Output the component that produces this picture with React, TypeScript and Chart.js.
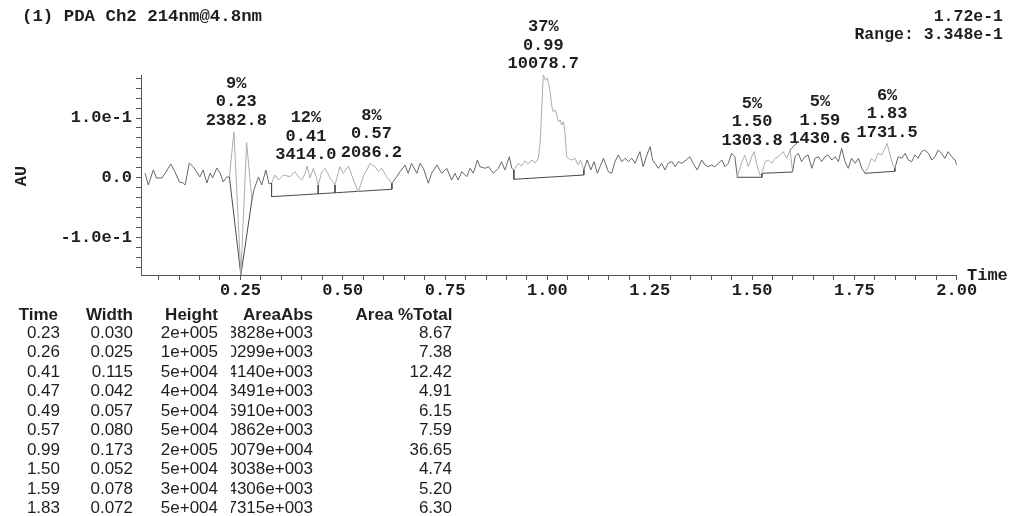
import React, { useEffect, useRef } from "react";
import { Chart, registerables } from "chart.js";

Chart.register(...registerables);

// ---- trace (retention time, min) / absorbance (AU) ----
const TIME = [
  0.017, 0.025, 0.037, 0.045, 0.058, 0.066, 0.080, 0.090, 0.101, 0.110, 0.115, 0.125, 0.135, 0.143, 0.151, 0.159,
  0.168, 0.176, 0.182, 0.192, 0.200, 0.208, 0.216, 0.223, 0.234, 0.251, 0.265, 0.278, 0.283, 0.294, 0.302, 0.312,
  0.320, 0.326, 0.334, 0.343, 0.355, 0.371, 0.383, 0.391, 0.400, 0.408, 0.413, 0.420, 0.428, 0.435, 0.440, 0.449,
  0.457, 0.469, 0.481, 0.493, 0.501, 0.514, 0.526, 0.538, 0.550, 0.567, 0.579, 0.587, 0.595, 0.607, 0.620, 0.632,
  0.640, 0.652, 0.660, 0.668, 0.681, 0.689, 0.697, 0.709, 0.717, 0.730, 0.742, 0.754, 0.766, 0.774, 0.782, 0.791,
  0.803, 0.811, 0.819, 0.829, 0.835, 0.848, 0.856, 0.868, 0.880, 0.888, 0.896, 0.907, 0.913, 0.918, 0.929, 0.937,
  0.945, 0.953, 0.962, 0.970, 0.978, 0.982, 0.986, 0.990, 0.995, 1.000, 1.006, 1.011, 1.014, 1.019, 1.023, 1.027,
  1.031, 1.035, 1.039, 1.043, 1.047, 1.051, 1.059, 1.067, 1.075, 1.081, 1.089, 1.097, 1.106, 1.114, 1.122, 1.137,
  1.149, 1.157, 1.165, 1.173, 1.182, 1.190, 1.198, 1.206, 1.214, 1.226, 1.234, 1.243, 1.251, 1.257, 1.263, 1.271,
  1.279, 1.287, 1.295, 1.304, 1.312, 1.320, 1.328, 1.339, 1.348, 1.356, 1.366, 1.377, 1.385, 1.393, 1.401, 1.409,
  1.418, 1.426, 1.434, 1.442, 1.450, 1.458, 1.464, 1.474, 1.482, 1.491, 1.499, 1.505, 1.511, 1.519, 1.524, 1.532,
  1.540, 1.548, 1.556, 1.564, 1.576, 1.585, 1.593, 1.599, 1.605, 1.613, 1.621, 1.629, 1.637, 1.646, 1.654, 1.662,
  1.670, 1.678, 1.686, 1.695, 1.703, 1.711, 1.719, 1.727, 1.735, 1.743, 1.752, 1.760, 1.768, 1.776, 1.784, 1.792,
  1.800, 1.808, 1.817, 1.825, 1.830, 1.837, 1.844, 1.849, 1.857, 1.866, 1.874, 1.882, 1.890, 1.898, 1.906, 1.914,
  1.922, 1.931, 1.939, 1.947, 1.955, 1.963, 1.971, 1.979, 1.988, 1.996, 2.000,
];
const AU = [
  0.0074, -0.0121, 0.0130, -0.0004, -0.0004, 0.0074, 0.0230, 0.0096, -0.0071, -0.0088, -0.0121, 0.0247, 0.0180, 0.0096, 0.0013, 0.0130,
  -0.0088, 0.0080, -0.0004, 0.0163, 0.0080, -0.0071, 0.0013, 0.0013, 0.0771, -0.1628, 0.0590, -0.0372, -0.0205, 0.0013, -0.0121, 0.0130,
  -0.0105, -0.0088, 0.0046, -0.0038, 0.0046, 0.0018, 0.0101, 0.0018, -0.0038, 0.0074, 0.0197, -0.0004, 0.0158, 0.0018, -0.0121, 0.0101,
  0.0158, -0.0004, -0.0121, 0.0185, 0.0074, 0.0197, -0.0038, -0.0234, 0.0018, 0.0242, 0.0185, 0.0101, 0.0158, 0.0018, -0.0093, 0.0018,
  0.0101, 0.0213, 0.0074, 0.0242, 0.0074, 0.0242, 0.0158, -0.0093, 0.0074, 0.0213, 0.0074, 0.0158, -0.0038, 0.0074, -0.0038, 0.0101,
  0.0018, 0.0158, 0.0074, 0.0297, 0.0185, 0.0158, 0.0185, 0.0074, 0.0158, 0.0269, 0.0130, 0.0352, 0.0158, 0.0130, 0.0242, 0.0197,
  0.0285, 0.0230, 0.0297, 0.0247, 0.0326, 0.0577, 0.1134, 0.1720, 0.1636, 0.1670, 0.1469, 0.1189, 0.1106, 0.1134, 0.1050, 0.0938,
  0.0967, 0.0883, 0.0938, 0.0744, 0.0352, 0.0326, 0.0297, 0.0326, 0.0213, 0.0297, 0.0130, 0.0297, 0.0130, 0.0269, 0.0074, 0.0326,
  0.0101, 0.0074, 0.0269, 0.0381, 0.0269, 0.0326, 0.0269, 0.0326, 0.0242, 0.0436, 0.0185, 0.0381, 0.0520, 0.0297, 0.0242, 0.0158,
  0.0242, 0.0130, 0.0242, 0.0269, 0.0185, 0.0269, 0.0242, 0.0297, 0.0352, 0.0242, 0.0130, 0.0297, 0.0213, 0.0185, 0.0213, 0.0185,
  0.0242, 0.0297, 0.0185, 0.0242, 0.0409, 0.0352, 0.0018, 0.0242, 0.0381, 0.0185, 0.0352, 0.0436, 0.0242, 0.0046, 0.0074, 0.0269,
  0.0297, 0.0242, 0.0326, 0.0352, 0.0436, 0.0326, 0.0465, 0.0101, 0.0352, 0.0409, 0.0269, 0.0352, 0.0381, 0.0158, 0.0326, 0.0352,
  0.0269, 0.0352, 0.0381, 0.0297, 0.0352, 0.0269, 0.0493, 0.0269, 0.0158, 0.0326, 0.0242, 0.0326, 0.0158, 0.0074, 0.0185, 0.0326,
  0.0269, 0.0409, 0.0381, 0.0493, 0.0577, 0.0381, 0.0213, 0.0158, 0.0352, 0.0326, 0.0409, 0.0297, 0.0269, 0.0381, 0.0326, 0.0436,
  0.0465, 0.0409, 0.0297, 0.0352, 0.0465, 0.0409, 0.0326, 0.0436, 0.0352, 0.0297, 0.0213,
];

// integrated peak regions (drawn in lighter grey)
const PEAK_RANGES: [number, number][] = [
  [0.223, 0.278], [0.326, 0.620], [0.918, 1.089], [1.464, 1.599], [1.776, 1.849],
];
// baselines: [t start, AU start, t end, AU end]
const BASELINES: [number, number, number, number][] = [
  [0.223, 0.0013, 0.251, -0.1628],
  [0.251, -0.1628, 0.278, -0.0372],
  [0.326, -0.0317, 0.620, -0.0193],
  [0.918, -0.0026, 1.089, 0.0046],
  [1.464, 0.0008, 1.524, 0.0008],
  [1.524, 0.0074, 1.599, 0.0096],
  [1.776, 0.0074, 1.849, 0.0108],
];
const DROP_TIMES = [0.326, 0.44, 0.481, 0.538, 0.62, 0.918, 1.089, 1.464, 1.524, 1.599, 1.776, 1.849];

// peak labels
const LABEL_PCT = ["9%", "12%", "8%", "37%", "5%", "5%", "6%"];
const LABEL_RT = ["0.23", "0.41", "0.57", "0.99", "1.50", "1.59", "1.83"];
const LABEL_AREA = ["2382.8", "3414.0", "2086.2", "10078.7", "1303.8", "1430.6", "1731.5"];
const LABEL_FROM = [0.223, 0.326, 0.538, 0.918, 1.464, 1.524, 1.776];
const LABEL_TO = [0.251, 0.44, 0.62, 1.089, 1.524, 1.599, 1.849];

// axes
const X_LABELS = ["0.25", "0.50", "0.75", "1.00", "1.25", "1.50", "1.75", "2.00"];
const Y_LABELS = ["-1.0e-1", "0.0", "1.0e-1"];
const Y_LABEL_VALUES = [-0.1, 0, 0.1];
const X_MIN = 0.007;
const X_MAX = 2.0;
const Y_MIN = -0.1628;
const Y_MAX = 0.172;

// results table
const TBL_TIME = ["0.23", "0.26", "0.41", "0.47", "0.49", "0.57", "0.99", "1.50", "1.59", "1.83"];
const TBL_WIDTH = ["0.030", "0.025", "0.115", "0.042", "0.057", "0.080", "0.173", "0.052", "0.078", "0.072"];
const TBL_HEIGHT = ["2e+005", "1e+005", "5e+004", "4e+004", "5e+004", "5e+004", "2e+005", "5e+004", "3e+004", "5e+004"];
const TBL_AREA_ABS = ["2.3828e+003", "2.0299e+003", "3.4140e+003", "1.3491e+003", "1.6910e+003", "2.0862e+003", "1.0079e+004", "1.3038e+003", "1.4306e+003", "1.7315e+003"];
const TBL_AREA_PCT = ["8.67", "7.38", "12.42", "4.91", "6.15", "7.59", "36.65", "4.74", "5.20", "6.30"];

// ---- styles ----
const MONO = '"Liberation Mono", "DejaVu Sans Mono", monospace';
const SANS = '"Liberation Sans", Arial, sans-serif';
const TRACE_COLOR = "#666666";
const PEAK_COLOR = "#adadad";
const BASE_COLOR = "#4a4a4a";
const AXIS_COLOR = "#555";
const TEXT_COLOR = "#1e1e1e";
const LABEL_SHIFT = [4, 0, 0, 0, 0, 31, 0];

function traceAt(t: number) {
  let best = 0;
  for (let i = 1; i < TIME.length; i++) if (Math.abs(TIME[i] - t) < Math.abs(TIME[best] - t)) best = i;
  return AU[best];
}

function Txt(props: { x: number; y: number; align?: "left" | "right"; font: string; size: number; bold?: boolean; children: any; rotate?: boolean }) {
  const { x, y, align = "left", font, size, bold, children, rotate } = props;
  const h = 22;
  const style: any = {
    position: "absolute",
    top: y - h / 2,
    height: h,
    lineHeight: h + "px",
    fontFamily: font,
    fontSize: size,
    fontWeight: bold ? 700 : 400,
    color: TEXT_COLOR,
    whiteSpace: "nowrap",
  };
  if (rotate) {
    style.left = x - 30;
    style.width = 60;
    style.textAlign = "center";
    style.transform = "rotate(-90deg)";
  } else if (align === "right") {
    style.right = 1024 - x;
    style.textAlign = "right";
  } else {
    style.left = x;
  }
  return <div style={style}>{children}</div>;
}

export default function App() {
  const canvasRef = useRef<HTMLCanvasElement | null>(null);

  useEffect(() => {
    const canvas = canvasRef.current;
    if (!canvas) return;

    const traceData = TIME.map((t, i) => ({ x: t, y: AU[i] }));
    const baseData: any[] = [];
    BASELINES.forEach(([t0, v0, t1, v1]) => {
      baseData.push({ x: t0, y: v0 }, { x: t1, y: v1 }, { x: t1, y: null });
      DROP_TIMES.forEach((t) => {
        if (t >= t0 - 1e-9 && t <= t1 + 1e-9) {
          const b = v0 + ((v1 - v0) * (t - t0)) / (t1 - t0);
          baseData.push({ x: t, y: traceAt(t) }, { x: t, y: b }, { x: t, y: null });
        }
      });
    });

    const inPeak = (a: number, b: number) =>
      PEAK_RANGES.some(([r0, r1]) => a >= r0 - 1e-9 && b <= r1 + 1e-9);

    const xTicks: number[] = [];
    for (let k = 1; k <= 40; k++) xTicks.push(+(k * 0.05).toFixed(2));
    const yTicks: number[] = [];
    for (let k = -9; k <= 10; k++) yTicks.push(k / 60);

    const labelPlugin = {
      id: "peakLabels",
      afterDatasetsDraw(chart: any) {
        const { ctx, scales } = chart;
        const xs = scales.x;
        const ys = scales.y;
        ctx.save();
        ctx.font = `bold 17px ${MONO}`;
        ctx.fillStyle = TEXT_COLOR;
        ctx.textAlign = "center";
        ctx.textBaseline = "middle";
        LABEL_RT.forEach((rt, i) => {
          let apex = -Infinity;
          TIME.forEach((t, j) => {
            if (t >= LABEL_FROM[i] - 1e-9 && t <= LABEL_TO[i] + 1e-9) apex = Math.max(apex, AU[j]);
          });
          const px = xs.getPixelForValue(parseFloat(rt));
          const py = ys.getPixelForValue(apex);
          const cx = px + LABEL_SHIFT[i];
          const base = py - 11;
          ctx.fillText(LABEL_AREA[i], cx, base);
          ctx.fillText(rt, cx, base - 18.5);
          ctx.fillText(LABEL_PCT[i], cx, base - 37);
          if (LABEL_SHIFT[i] > 10) {
            ctx.strokeStyle = "#666";
            ctx.lineWidth = 1;
            ctx.beginPath();
            ctx.moveTo(px + 1, py);
            ctx.lineTo(px + 9, py - 8);
            ctx.stroke();
          }
        });
        ctx.restore();
      },
    };

    const chart = new Chart(canvas, {
      type: "line",
      data: {
        datasets: [
          {
            data: traceData,
            borderColor: TRACE_COLOR,
            borderWidth: 1,
            pointRadius: 0,
            tension: 0,
            segment: {
              borderColor: (c: any) => (inPeak(c.p0.parsed.x, c.p1.parsed.x) ? PEAK_COLOR : TRACE_COLOR),
            },
          } as any,
          {
            data: baseData,
            borderColor: BASE_COLOR,
            borderWidth: 1,
            pointRadius: 0,
            tension: 0,
            spanGaps: false,
          },
        ],
      },
      options: {
        responsive: false,
        animation: false,
        devicePixelRatio: 1,
        layout: { padding: { left: 41, right: 67.3, top: 75, bottom: 3 } },
        plugins: { legend: { display: false }, tooltip: { enabled: false } },
        elements: { line: { borderCapStyle: "butt" } },
        scales: {
          x: {
            type: "linear",
            min: X_MIN,
            max: X_MAX,
            afterBuildTicks: (s: any) => {
              s.ticks = xTicks.map((v) => ({ value: v }));
            },
            afterFit: (s: any) => {
              s.height = 22;
            },
            ticks: {
              autoSkip: false,
              maxRotation: 0,
              padding: 1,
              color: TEXT_COLOR,
              font: { family: MONO, size: 17, weight: "bold" },
              callback: (v: any) => {
                const i = X_LABELS.findIndex((l) => Math.abs(parseFloat(l) - v) < 1e-6);
                return i >= 0 ? X_LABELS[i] : "";
              },
            },
            grid: { drawOnChartArea: false, drawTicks: true, tickLength: 5, color: AXIS_COLOR },
            border: { display: true, color: AXIS_COLOR, width: 1 },
          },
          y: {
            type: "linear",
            min: Y_MIN,
            max: Y_MAX,
            afterBuildTicks: (s: any) => {
              s.ticks = yTicks.map((v) => ({ value: v }));
            },
            afterFit: (s: any) => {
              s.width = 100;
            },
            ticks: {
              autoSkip: false,
              padding: 4,
              color: TEXT_COLOR,
              font: { family: MONO, size: 17, weight: "bold" },
              callback: (v: any) => {
                const i = Y_LABEL_VALUES.findIndex((l) => Math.abs(l - v) < 1e-6);
                return i >= 0 ? Y_LABELS[i] : "";
              },
            },
            grid: { drawOnChartArea: false, drawTicks: true, tickLength: 5, color: AXIS_COLOR },
            border: { display: true, color: AXIS_COLOR, width: 1 },
          },
        },
      },
      plugins: [labelPlugin],
    } as any);

    return () => chart.destroy();
  }, []);

  const rowY = (i: number) => 332.7 + i * 19.5;
  const headY = 315;

  return (
    <div style={{ position: "fixed", left: 0, top: 0, width: 1024, height: 516, background: "#fff", overflow: "hidden" }}>
      <canvas ref={canvasRef} width={1024} height={300} style={{ position: "absolute", left: 0, top: 0, width: 1024, height: 300 }} />

      <Txt x={22} y={17} font={MONO} size={17.4} bold>(1) PDA Ch2 214nm@4.8nm</Txt>
      <Txt x={1003} y={17} align="right" font={MONO} size={16.5} bold>1.72e-1</Txt>
      <Txt x={1003} y={35} align="right" font={MONO} size={16.5} bold>Range: 3.348e-1</Txt>
      <Txt x={22} y={176} font={MONO} size={17} bold rotate>AU</Txt>
      <Txt x={967} y={276} font={MONO} size={17} bold>Time</Txt>

      <Txt x={58} y={headY} align="right" font={SANS} size={17} bold>Time</Txt>
      <Txt x={133} y={headY} align="right" font={SANS} size={17} bold>Width</Txt>
      <Txt x={218} y={headY} align="right" font={SANS} size={17} bold>Height</Txt>
      <Txt x={313} y={headY} align="right" font={SANS} size={17} bold>AreaAbs</Txt>
      <Txt x={452.5} y={headY} align="right" font={SANS} size={17} bold>Area %Total</Txt>

      {TBL_TIME.map((v, i) => (
        <Txt key={"t" + i} x={60} y={rowY(i)} align="right" font={SANS} size={17}>{v}</Txt>
      ))}
      {TBL_WIDTH.map((v, i) => (
        <Txt key={"w" + i} x={133} y={rowY(i)} align="right" font={SANS} size={17}>{v}</Txt>
      ))}
      {TBL_HEIGHT.map((v, i) => (
        <Txt key={"h" + i} x={218} y={rowY(i)} align="right" font={SANS} size={17}>{v}</Txt>
      ))}
      {TBL_AREA_ABS.map((v, i) => (
        <div
          key={"a" + i}
          style={{
            position: "absolute",
            left: 231,
            width: 82,
            top: rowY(i) - 11,
            height: 22,
            lineHeight: "22px",
            overflow: "hidden",
            textAlign: "right",
            fontFamily: SANS,
            fontSize: 17,
            color: TEXT_COLOR,
            whiteSpace: "nowrap",
            direction: "rtl",
          }}
        >
          <span style={{ direction: "ltr", unicodeBidi: "bidi-override" }}>{v}</span>
        </div>
      ))}
      {TBL_AREA_PCT.map((v, i) => (
        <Txt key={"p" + i} x={452} y={rowY(i)} align="right" font={SANS} size={17}>{v}</Txt>
      ))}
    </div>
  );
}
